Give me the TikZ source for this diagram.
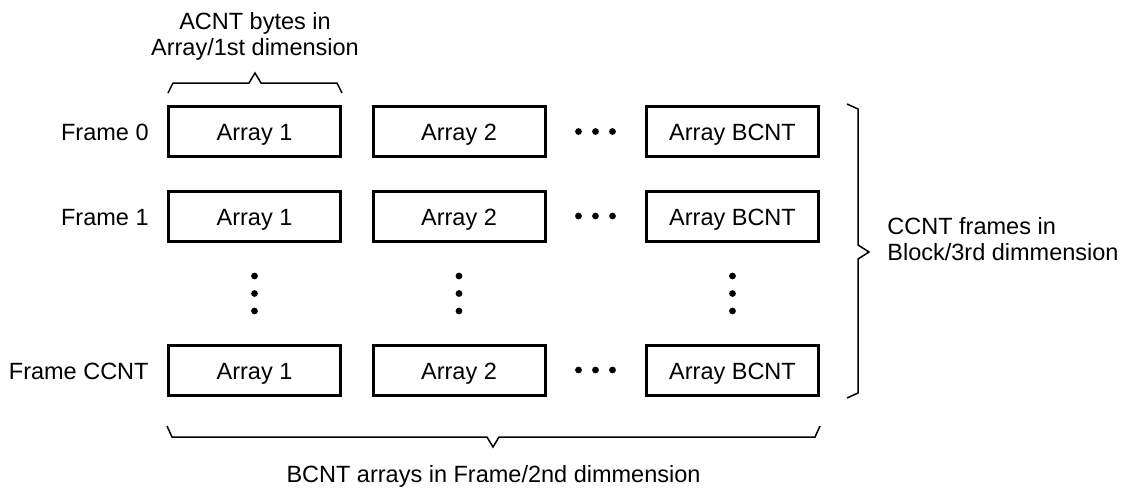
\documentclass[tikz,border=0pt]{standalone}
\usepackage{fontspec}
\setmainfont{Liberation Sans}
\usetikzlibrary{positioning}
\begin{document}
\begin{tikzpicture}[x=0.5pt,y=-0.5pt]
    \tikzstyle{array node}=[draw,line width=1.5pt,minimum width=86pt,minimum height=25pt,inner sep=0,text height=0.91em,text depth=0pt]
    \tikzstyle{frame label}=[inner sep=0,text height=0.91em,text depth=0pt]
    \tikzset{
    brace line/.style={line width=0.75pt,line join=miter},
    dot/.style={circle,fill=black,inner sep=0,minimum size=3.4pt},
    note/.style={inner sep=0,align=center,font=\fontsize{11.75}{13}\selectfont}
    }
    \useasboundingbox (0,0) rectangle (1127,487);
    \begin{scope}[every node/.append style={font=\fontsize{11.75}{14}\selectfont}]
    % frame 0
    \node[array node] (a01) at (254.5,131.5) {Array 1};
    \node[array node] (a02) at (459,131.5) {Array 2};
    \node[array node] (a0n) at (732.5,131.5) {Array BCNT};
    % frame 1
    \node[array node] (a11) at (254.5,216) {Array 1};
    \node[array node] (a12) at (459,216) {Array 2};
    \node[array node] (a1n) at (732.5,216) {Array BCNT};
    % frame CCNT
    \node[array node] (an1) at (254.5,370) {Array 1};
    \node[array node] (an2) at (459,370) {Array 2};
    \node[array node] (ann) at (732.5,370) {Array BCNT};
    % row labels
    \node[frame label,left=9pt of a01] (f0) {Frame 0};
    \node[frame label,left=9pt of a11] (f1) {Frame 1};
    \node[frame label,left=9pt of an1] (fn) {Frame CCNT};
    \end{scope}
    % dots
    \foreach \y in {131.5,216,370}{
        \foreach \x in {578.5,595.5,612.5} \node[dot] at (\x,\y) {};
    }
    \foreach \x in {254.5,459,732.5}{
        \foreach \y in {276,293.5,311} \node[dot] at (\x,\y) {};
    }
    % braces
    \draw[brace line] (168,93) -- (173,83) -- (249,83) -- (255,73) -- (261,83) -- (337,83) -- (342,93);
    \draw[brace line] (847,104) -- (858,109) -- (858,245) -- (869,252) -- (858,259) -- (858,393) -- (847,398);
    \draw[brace line] (167,426) -- (172,437) -- (487,437) -- (493,447) -- (499,437) -- (815,437) -- (820,426);
    % captions
    \node[note,anchor=north] (acnt) at (255,12) {ACNT bytes in\\Array/1st dimension};
    \node[note,anchor=north west,align=left] (ccnt) at (887,217) {CCNT frames in\\Block/3rd dimmension};
    \node[note,anchor=base] (bcnt) at (493.5,482) {BCNT arrays in Frame/2nd dimmension};
\end{tikzpicture}
\end{document}
